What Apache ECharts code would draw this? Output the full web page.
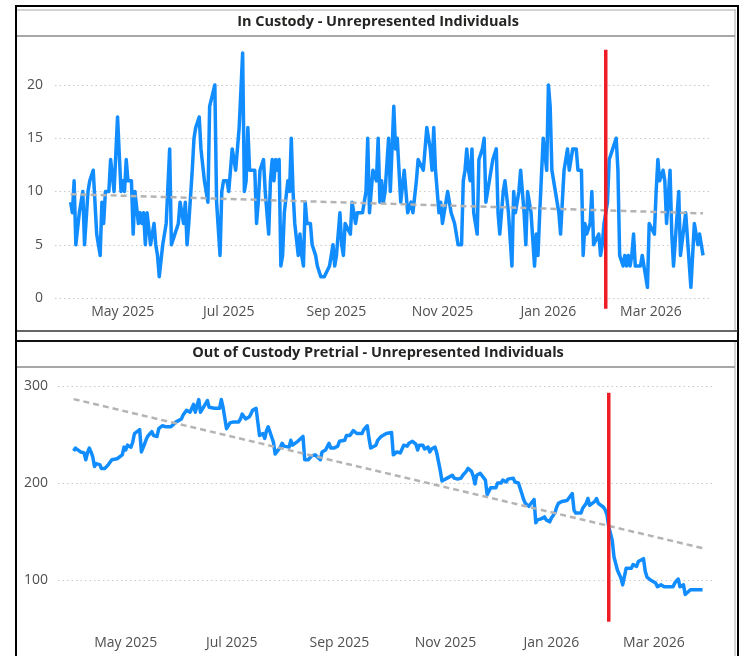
<!DOCTYPE html>
<html><head><meta charset="utf-8">
<script src="https://cdn.jsdelivr.net/npm/echarts@6/dist/echarts.min.js"></script>
<style>html,body{margin:0;padding:0;background:#fff}#c{width:741px;height:656px}</style>
</head><body><div id="c"></div>
<script>
function days(ym, list) { return list.map(function (n) { return ym + '-' + String(n).padStart(2, '0'); }); }

const topTitle = 'In Custody - Unrepresented Individuals';
const bottomTitle = 'Out of Custody Pretrial - Unrepresented Individuals';

const topDates = [].concat(
  days('2025-04', [1,2,3,4,6,8,9,10,11,12,14,16,18,19,20,21,23,24,26,27,28,30]),
  days('2025-05', [1,2,3,4,6,7,8,10,11,12,13,14,15,17,19,20,21,22,23,24,25,26,28,29,31]),
  days('2025-06', [1,2,3,5,6,7,8,10,11,12,14,15,16,17,19,20,21,23,24,26,27,28,30]),
  days('2025-07', [1,2,3,5,7,9,10,11,12,13,16,17,18,19,21,22,24,25,26,27,28,29,30,31]),
  days('2025-08', [1,2,3,4,5,6,7,8,10,11,12,13,14,15,17,18,20,21,23,25,26,28,29,30,31]),
  days('2025-09', [1,2,3,4,5,6,7,9,10,12,13,14,16,17,18,19,20,21,22,24,25,26,27,28,29]),
  days('2025-10', [1,2,3,4,5,6,7,8,10,11,12,14,15,16,17,18,19,21,22,23,25,26,27,28,30,31]),
  days('2025-11', [1,2,4,5,6,7,8,10,12,13,14,15,16,17,18,19,20,21,22,23,24,25,26,27,28,30]),
  days('2025-12', [2,3,4,5,6,7,8,9,10,11,12,13,15,16,17,18,19,20,21,22,24,25,26,27,28,29,30,31]),
  days('2026-01', [1,2,3,4,6,7,8,9,10,11,12,13,14,15,17,18,20,21,22,23,25,26,27,28,30,31]),
  days('2026-02', [1,2,3,4,5,7,8,9,10,11,13,14,15,16,17,18,19,20,21,23,24,26,27,28]),
  days('2026-03', [1,3,4,5,6,8,9,10,11,12,13,14,15,17,18,19,21,22,24,25,26,28,29,30,31])
);
const topValues = [
  9,8,11,5,8,10,5,5,10,11,12,6,4,9,7,10,10,13,10,10,17,10,
  11,10,13,11,11,6,10,7,8,7,8,5,8,5,7,5,4,2,2,5,5,7,14,5,6,
  6,7,9,7,9,5,7,12,15,16,17,14,14,11,9,18,18,20,9,4,10,11,11,
  10,12,14,12,16,23,10,11,16,12,12,7,9,12,13,10,6,11,13,11,13,12,13,3,
  4,8,8,11,10,15,10,7,4,6,4,3,9,7,7,5,4,3,2,2,2,3,3,5,3,
  4,4,8,5,4,7,7,6,9,7,8,8,8,9,10,15,8,8,12,11,15,9,11,9,10,
  15,10,10,18,14,15,15,9,12,12,8,9,8,8,11,13,13,12,14,16,14,12,16,12,8,9,
  7,7,10,9,8,8,7,5,5,11,12,14,12,11,14,8,8,6,13,13,14,15,9,10,10,13,
  14,8,6,6,10,11,11,8,8,3,10,8,10,12,12,8,5,10,10,8,3,6,4,8,8,15,15,12,
  20,18,12,11,9,8,6,9,12,12,14,12,12,14,14,12,12,4,7,6,7,10,5,5,6,4,
  5,7,7,9,13,14,14,15,12,4,3,4,3,4,3,4,6,3,3,3,4,2,1,7,
  7,6,10,13,11,12,11,7,7,12,6,3,3,10,4,4,8,8,1,4,7,5,6,5,4
];

const bottomDates = [].concat(
  days('2025-04', [1,2,3,5,7,8,9,10,11,12,13,14,16,17,19,20,21,23,24,26,27,29,30]),
  days('2025-05', [1,2,4,5,6,7,9,10,11,12,13,14,16,17,19,20,22,23,24,25,27,28,30,31]),
  days('2025-06', [2,3,5,6,7,9,10,12,13,14,15,17,18,19,21,22,24,25,26,28,29,30]),
  days('2025-07', [2,3,5,6,7,8,9,11,12,13,15,16,17,18,19,20,21,22,23,25,26,27,29,30,31]),
  days('2025-08', [1,3,4,5,6,8,9,11,12,14,15,16,18,19,21,22,23,24,26,27,28,29,31]),
  days('2025-09', [1,2,4,5,7,8,9,11,12,14,15,17,18,19,20,22,23,25,26,28,29]),
  days('2025-10', [1,2,3,4,6,7,8,10,11,12,13,15,16,17,19,20,22,23,24,26,27,29,30,31]),
  days('2025-11', [2,3,5,6,7,8,10,11,13,14,16,17,18,19,21,22,24,25,27,28,30]),
  days('2025-12', [1,3,4,6,7,8,10,11,12,13,15,16,17,19,20,22,23,24,25,26,28,29,31]),
  days('2026-01', [1,3,4,5,7,8,10,11,13,14,15,16,18,19,21,22,23,24,26,27,28,29,31]),
  days('2026-02', [1,2,3,5,6,7,8,10,11,13,14,16,17,19,20,21,23,24,25,27,28]),
  days('2026-03', [2,3,5,6,7,9,10,12,13,15,16,17,18,19,20,22,23,25,26,28,29])
);
const bottomValues = [
  233,236,234,232,231,224,231,236,232,227,217,220,219,215,215,217,219,224,224,225,227,229,237,
  234,239,237,242,251,253,255,232,234,241,246,249,253,249,248,256,259,261,258,256,258,260,263,264,
  266,270,275,274,273,281,273,286,273,276,276,285,278,280,277,278,277,286,278,256,258,262,
  263,263,263,266,271,273,266,268,271,275,277,263,249,248,251,246,254,258,259,242,230,232,237,241,238,
  238,237,244,239,241,243,243,248,224,224,225,228,229,227,224,232,233,234,241,236,238,236,238,
  243,245,244,249,249,251,254,251,251,251,255,259,246,236,237,239,244,248,250,251,250,
  252,229,231,232,231,232,239,238,241,239,243,240,234,239,239,235,237,232,235,237,231,213,202,203,
  205,207,208,205,207,204,205,208,212,215,212,207,199,208,210,208,203,188,195,197,195,
  200,200,203,201,204,206,205,201,202,200,189,183,179,176,176,183,159,162,164,163,165,162,160,
  164,169,175,179,181,183,182,183,189,172,169,169,169,174,179,184,177,179,181,184,179,177,175,
  172,167,155,141,124,123,110,102,95,112,114,112,116,114,119,117,122,109,103,100,102,
  97,93,95,93,93,93,94,93,97,101,93,91,95,85,86,90,89,90,89,90,90
];

const trendDates = ['2025-04-01', '2026-03-31'];
const topTrend = [9.75, 7.95];
const bottomTrend = [286.5, 132];
const eventDate = '2026-02-03';
const topEventSpan = [-1, 23.3];
const bottomEventSpan = [57, 293];

const monthTicks = ['2025-05-01', '2025-07-01', '2025-09-01', '2025-11-01', '2026-01-01', '2026-03-01'];
const axisRange = ['2025-03-23', '2026-04-04'];
const topTicks = [0, 5, 10, 15, 20];
const topRange = [0, 24];
const bottomTicks = [100, 200, 300];
const bottomRange = [60, 310];

const MONTHS = ['Jan','Feb','Mar','Apr','May','Jun','Jul','Aug','Sep','Oct','Nov','Dec'];
function ts(s) { return Date.parse(s + 'T00:00:00Z'); }
function zip(ds, vs) { return ds.map(function (d, i) { return [ts(d), vs[i]]; }); }
if (topDates.length !== topValues.length) console.error('top length mismatch', topDates.length, topValues.length);
if (bottomDates.length !== bottomValues.length) console.error('bottom length mismatch', bottomDates.length, bottomValues.length);

const FONT = "'Segoe UI', 'Open Sans', sans-serif";
const LABEL = '#505050';
function monthFmt(v) { const d = new Date(v); return MONTHS[d.getUTCMonth()] + ' ' + d.getUTCFullYear(); }

function xAxis(idx, margin) {
  return {
    gridIndex: idx, type: 'value', min: ts(axisRange[0]), max: ts(axisRange[1]),
    axisLine: { show: false }, axisTick: { show: false }, splitLine: { show: false },
    axisLabel: { customValues: monthTicks.map(ts), formatter: monthFmt, color: LABEL, fontSize: 14, fontFamily: FONT, margin: margin }
  };
}
function yAxis(idx, range, ticks, margin) {
  return {
    gridIndex: idx, type: 'value', min: range[0], max: range[1],
    axisLine: { show: false },
    axisTick: { show: false, customValues: ticks },
    axisLabel: { customValues: ticks, color: LABEL, fontSize: 14, fontFamily: FONT, margin: margin },
    splitLine: { show: true, lineStyle: { color: '#CACACA', width: 1, type: [1.5, 3] } }
  };
}
function lineSeries(idx, data) {
  return { type: 'line', xAxisIndex: idx, yAxisIndex: idx, data: data, showSymbol: false, z: 3,
    lineStyle: { color: '#118DFF', width: 3.5, join: 'round' } };
}
function trendSeries(idx, vals) {
  return { type: 'line', xAxisIndex: idx, yAxisIndex: idx, data: zip(trendDates, vals), showSymbol: false, z: 4,
    lineStyle: { color: '#B4B4B4', width: 2.5, type: [6, 4] } };
}
function eventSeries(idx, span) {
  return { type: 'line', xAxisIndex: idx, yAxisIndex: idx, clip: false, showSymbol: false, z: 5,
    data: [[ts(eventDate), span[0]], [ts(eventDate), span[1]]],
    lineStyle: { color: '#EE1C25', width: 3.5 } };
}

const chart = echarts.init(document.getElementById('c'), null, { renderer: 'canvas' });
chart.setOption({
  animation: false,
  backgroundColor: '#ffffff',
  grid: [
    { left: 55, right: 31, top: 42.4, bottom: 358 },
    { left: 58, right: 28, top: 376.3, bottom: 37.2 }
  ],
  xAxis: [xAxis(0, 7), xAxis(1, 17)],
  yAxis: [yAxis(0, topRange, topTicks, 12), yAxis(1, bottomRange, bottomTicks, 10)],
  series: [
    lineSeries(0, zip(topDates, topValues)),
    trendSeries(0, topTrend),
    eventSeries(0, topEventSpan),
    lineSeries(1, zip(bottomDates, bottomValues)),
    trendSeries(1, bottomTrend),
    eventSeries(1, bottomEventSpan)
  ],
  graphic: [
    { type: 'rect', shape: { x: 16, y: 6, width: 722, height: 700 }, style: { fill: null, stroke: '#000', lineWidth: 2 }, silent: true },
    { type: 'line', shape: { x1: 17, y1: 10, x2: 736, y2: 10 }, style: { stroke: '#A8A8A8', lineWidth: 1 } },
    { type: 'line', shape: { x1: 735, y1: 10, x2: 735, y2: 331 }, style: { stroke: '#A8A8A8', lineWidth: 1 } },
    { type: 'line', shape: { x1: 17, y1: 36, x2: 735, y2: 36 }, style: { stroke: '#8A8A8A', lineWidth: 1.5 } },
    { type: 'line', shape: { x1: 17, y1: 331, x2: 738, y2: 331 }, style: { stroke: '#333', lineWidth: 1.5 } },
    { type: 'line', shape: { x1: 17, y1: 341, x2: 738, y2: 341 }, style: { stroke: '#111', lineWidth: 2 } },
    { type: 'line', shape: { x1: 17, y1: 367, x2: 735, y2: 367 }, style: { stroke: '#8A8A8A', lineWidth: 1.5 } },
    { type: 'line', shape: { x1: 735, y1: 342, x2: 735, y2: 656 }, style: { stroke: '#A8A8A8', lineWidth: 1 } },
    { type: 'text', x: 378, y: 22, style: { text: topTitle, font: "bold 14.5px 'Segoe UI', 'Open Sans', sans-serif", fill: '#252423', textAlign: 'center', textVerticalAlign: 'middle' } },
    { type: 'text', x: 378, y: 353, style: { text: bottomTitle, font: "bold 14.5px 'Segoe UI', 'Open Sans', sans-serif", fill: '#252423', textAlign: 'center', textVerticalAlign: 'middle' } }
  ]
});
</script>
</body></html>
